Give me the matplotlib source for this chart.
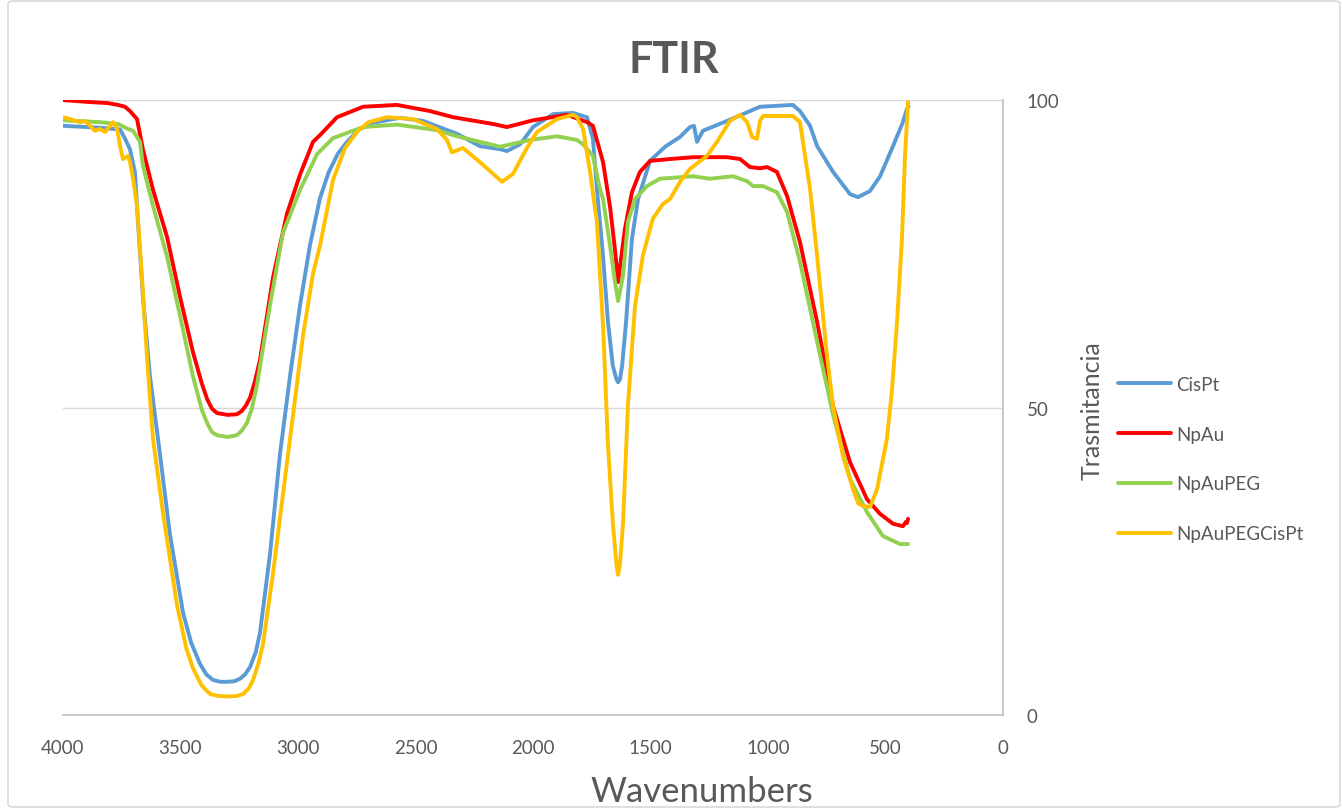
import matplotlib.pyplot as plt
from matplotlib.patches import FancyBboxPatch

# datos (numero de onda, trasmitancia)
wn_cispt = [4000, 3843, 3757, 3736, 3715, 3694, 3681, 3660, 3630, 3587, 3545, 3489, 3455, 3417,
            3390, 3362, 3330, 3300, 3270, 3247, 3225, 3204, 3180, 3162, 3119, 3077, 3034, 2991,
            2949, 2906, 2870, 2830, 2791, 2740, 2681, 2566, 2468,
            2323, 2226, 2140, 2111, 2055, 2000, 1915, 1830, 1770, 1745, 1728, 1702, 1681, 1660,
            1645, 1638, 1630, 1621, 1604, 1579, 1553, 1502, 1438, 1374, 1332, 1315, 1302, 1277,
            1174, 1034, 894, 864, 821, 791, 723, 651, 617, 566, 523, 468, 426, 409, 402]
t_cispt = [95.8, 95.5, 95.2, 93.7, 92.0, 88.3, 80.2, 68.0, 55.1, 42.3, 29.4, 16.6, 11.8, 8.3,
           6.6, 5.7, 5.4, 5.4, 5.5, 5.9, 6.6, 7.8, 10.2, 13.3, 26.2, 42.3, 55.1, 66.7,
           76.4, 84.1, 88.2, 91.3, 93.2, 95.2, 96.3, 97.1, 96.6,
           94.5, 92.5, 92.0, 91.7, 92.8, 95.6, 97.7, 97.9, 97.2, 93.7, 85.5, 74.6, 63.9, 56.7,
           54.6, 54.1, 54.6, 56.7, 63.9, 77.4, 83.9, 90.1, 92.4, 94.0, 95.6, 95.8, 93.2, 95.0,
           96.6, 98.9, 99.2, 98.2, 95.8, 92.5, 88.3, 84.7, 84.2, 85.2, 87.6, 92.5, 96.4, 98.5, 99.0]

wn_npau = [4000, 3900, 3810, 3766, 3736, 3715, 3685, 3660, 3617, 3557, 3502, 3447, 3410, 3387,
           3366, 3345, 3300, 3260, 3240, 3222, 3204, 3185, 3162, 3106, 3047, 2991, 2936, 2906,
           2834, 2723, 2579, 2438, 2340, 2170,
           2111, 2000, 1855, 1770, 1745, 1702, 1672, 1651, 1638, 1609, 1579, 1545, 1502, 1417,
           1319, 1174, 1119, 1077, 1034, 1004, 962, 919, 864, 791, 723, 651, 579, 523, 468,
           426, 413, 409, 404]
t_npau = [100.0, 99.7, 99.5, 99.2, 98.9, 98.2, 96.9, 92.0, 85.4, 77.7, 68.0, 59.0, 54.0, 51.4,
          49.8, 49.1, 48.8, 48.9, 49.4, 50.3, 51.6, 54.0, 57.7, 71.2, 81.5, 87.9, 93.2, 94.3,
          97.2, 98.9, 99.2, 98.2, 97.2, 96.1,
          95.6, 96.7, 97.6, 96.4, 95.8, 89.9, 82.6, 75.6, 70.4, 79.0, 85.0, 88.3, 90.1, 90.4,
          90.7, 90.7, 90.4, 89.1, 88.9, 89.1, 88.3, 84.4, 76.9, 63.9, 50.2, 41.1, 35.1, 32.7, 31.1,
          30.7, 31.4, 31.2, 31.9]

wn_npaupeg = [4000, 3843, 3766, 3723, 3702, 3672, 3660, 3617, 3557, 3502, 3447, 3410, 3387,
              3366, 3345, 3300, 3260, 3240, 3217, 3195, 3174, 3119, 3064, 2991, 2919, 2851,
              2723, 2579, 2409, 2323, 2140,
              2013, 1898, 1813, 1787, 1745, 1715, 1702, 1672, 1651, 1638, 1617, 1596, 1566,
              1515, 1460, 1319, 1247, 1149, 1089, 1064, 1021, 962, 919, 864, 791, 723, 651,
              579, 511, 438, 404]
t_npaupeg = [96.7, 96.4, 96.1, 95.3, 95.0, 93.2, 89.3, 82.8, 74.5, 64.9, 55.1, 49.7, 47.5,
             46.0, 45.5, 45.2, 45.5, 46.2, 47.5, 50.0, 53.8, 66.7, 78.4, 85.4, 91.2, 93.8,
             95.6, 96.0, 95.1, 94.1, 92.4,
             93.5, 94.1, 93.5, 92.8, 90.9, 85.5, 83.9, 76.3, 70.4, 67.3, 71.4, 80.2, 83.9,
             86.0, 87.2, 87.6, 87.2, 87.6, 86.8, 86.0, 86.0, 85.0, 81.8, 73.7, 60.7, 48.8, 38.4,
             33.0, 29.1, 27.8, 27.8]

wn_npaupegcispt = [4000, 3970, 3928, 3906, 3885, 3864, 3843, 3821, 3800, 3787, 3770, 3757, 3745,
                   3723, 3715, 3702, 3685, 3664, 3643, 3617, 3574, 3515, 3475, 3447, 3410, 3374,
                   3340, 3300, 3260, 3234, 3210, 3191, 3170,
                   3149, 3106, 3064, 3021, 2979, 2936, 2906, 2851, 2800, 2749, 2700, 2621, 2511,
                   2409, 2366, 2345, 2298, 2226, 2170, 2132, 2085, 2026, 1983, 1898, 1830, 1813,
                   1787, 1757, 1736, 1728, 1702, 1681, 1660, 1645, 1638, 1630, 1617, 1596, 1566,
                   1532, 1490, 1447, 1417, 1374, 1332, 1260, 1217, 1162, 1119, 1089, 1068, 1047,
                   1034, 1021, 894, 864, 821, 791, 749, 723, 681, 638, 616, 596, 566, 536, 494,
                   472, 451, 430, 417, 404]
t_npaupegcispt = [97.2, 96.9, 96.4, 96.6, 95.8, 95.0, 95.3, 94.8, 95.8, 96.4, 95.3, 92.5, 90.4,
                  90.9, 89.9, 87.2, 82.8, 71.2, 58.4, 44.9, 32.7, 17.9, 10.8, 7.6, 4.8, 3.4,
                  3.1, 3.0, 3.1, 3.4, 4.3, 5.7, 8.2,
                  11.5, 23.1, 35.9, 48.8, 61.6, 71.8, 76.4, 87.0, 92.2, 94.8, 96.4, 97.2, 96.9,
                  95.3, 93.5, 91.5, 92.2, 89.9, 88.0, 86.7, 88.0, 92.2, 94.8, 96.9, 97.6, 97.2,
                  95.3, 88.3, 82.3, 80.2, 63.3, 43.9, 31.1, 24.5, 22.8, 24.5, 31.1, 50.4, 66.5,
                  74.8, 80.7, 83.1, 83.9, 86.7, 88.8, 90.9, 93.2, 96.6, 97.6, 96.4, 94.0, 93.7,
                  96.6, 97.4, 97.4, 96.4, 85.5, 74.6, 58.4, 50.2, 42.1, 36.7, 34.4, 34.0, 33.8,
                  36.7, 44.9, 53.0, 63.9, 77.4, 90.9, 99.7]

series = ["CisPt", "NpAu", "NpAuPEG", "NpAuPEGCisPt"]
colores = ["#5B9BD5", "#FF0000", "#92D050", "#FFC000"]
xticks = [4000, 3500, 3000, 2500, 2000, 1500, 1000, 500, 0]
yticks = [0, 50, 100]

fuente = "Lato"
gris = "#595959"

fig = plt.figure(figsize=(13.42, 8.12), dpi=100)
ax = fig.add_axes([63/1342, 1-716/812, 940/1342, 615/812])

datos = [(wn_cispt, t_cispt), (wn_npau, t_npau), (wn_npaupeg, t_npaupeg),
         (wn_npaupegcispt, t_npaupegcispt)]
for (x, y), nombre, c in zip(datos, series, colores):
    ax.plot(x, y, color=c, lw=2.8, label=nombre, solid_capstyle="round", solid_joinstyle="round")

ax.set_xlim(4000, 0)
ax.set_ylim(0, 100)
ax.set_xticks(xticks)
ax.set_yticks(yticks)
ax.yaxis.tick_right()
ax.tick_params(length=0, labelsize=13.5, labelcolor=gris)
ax.tick_params(axis="x", pad=17)
ax.tick_params(axis="y", pad=17)
for lab in ax.get_xticklabels() + ax.get_yticklabels():
    lab.set_fontfamily(fuente)
for lab in ax.get_yticklabels():
    lab.set_horizontalalignment("left")

# grilla y ejes
ax.grid(axis="y", color="#d9d9d9", lw=1)
ax.set_axisbelow(True)
for s in ["left", "top"]:
    ax.spines[s].set_visible(False)
ax.spines["bottom"].set_color("#bfbfbf")
ax.spines["right"].set_color("#bfbfbf")
ax.spines["bottom"].set_linewidth(1.2)
ax.spines["right"].set_linewidth(1.2)

# textos
fig.text(674/1342, 1-60/812, "FTIR", ha="center", va="center", fontsize=31,
         fontweight="bold", color=gris, family=fuente)
fig.text(702/1342, 1-792/812, "Wavenumbers", ha="center", va="center", fontsize=25,
         color=gris, family=fuente)
fig.text(1092/1342, 1-411/812, "Trasmitancia", ha="center", va="center", fontsize=18,
         color=gris, family=fuente, rotation=90)

leg = ax.legend(loc="center left", bbox_to_anchor=(1118/1342, 1-460/812),
                bbox_transform=fig.transFigure, frameon=False, borderpad=0,
                borderaxespad=0, handlelength=2.8, handletextpad=0.3, labelspacing=1.75,
                prop={"family": fuente, "size": 13.5})
for t in leg.get_texts():
    t.set_color(gris)

# marco del grafico
borde = FancyBboxPatch((8/1342, 4/812), 1332/1342, 806/812, boxstyle="round,pad=0,rounding_size=0.004",
                       transform=fig.transFigure, fill=False, edgecolor="#d9d9d9", lw=1.2)
fig.patches.append(borde)

fig.savefig("out.png", dpi=100)
